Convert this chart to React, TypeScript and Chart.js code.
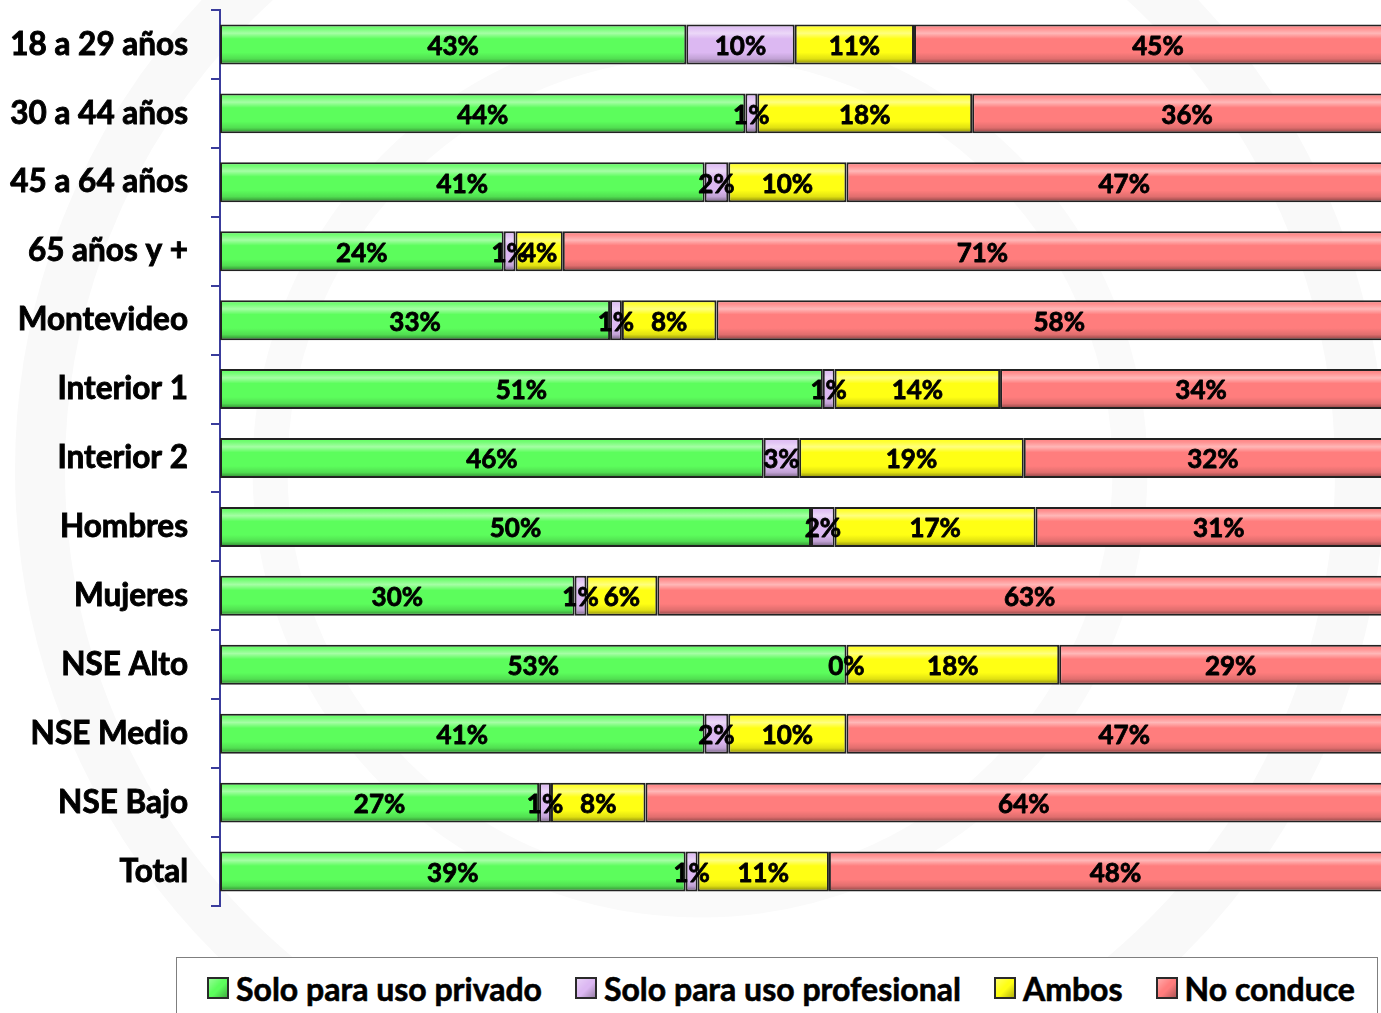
import React, { useEffect, useRef } from "react";
import { Chart, registerables } from "chart.js";

Chart.register(...registerables);

const categories = [
  "18 a 29 años",
  "30 a 44 años",
  "45 a 64 años",
  "65 años y +",
  "Montevideo",
  "Interior 1",
  "Interior 2",
  "Hombres",
  "Mujeres",
  "NSE Alto",
  "NSE Medio",
  "NSE Bajo",
  "Total",
];

const seriesNames = ["Solo para uso privado", "Solo para uso profesional", "Ambos", "No conduce"];
const privado = [43, 44, 41, 24, 33, 51, 46, 50, 30, 53, 41, 27, 39];
const profesional = [10, 1, 2, 1, 1, 1, 3, 2, 1, 0, 2, 1, 1];
const ambos = [11, 18, 10, 4, 8, 14, 19, 17, 6, 18, 10, 8, 11];
const noConduce = [45, 36, 47, 71, 58, 34, 32, 31, 63, 29, 47, 64, 48];

const seriesColors = ["#5cfd5c", "#dcb8f2", "#ffff14", "#ff7d7d"];
const FONT = "Lato, 'Open Sans', sans-serif";

const rawSeries = [privado, profesional, ambos, noConduce];
const rowTotals = categories.map((_, i) => rawSeries.reduce((s, arr) => s + arr[i], 0));
const normalized = rawSeries.map((arr) => arr.map((v, i) => (v / rowTotals[i]) * 100));

const bevelAndLabels = {
  id: "bevelAndLabels",
  afterDatasetsDraw(chart: any) {
    const ctx = chart.ctx;
    chart.data.datasets.forEach((ds: any, di: number) => {
      const meta = chart.getDatasetMeta(di);
      meta.data.forEach((el: any) => {
        const p = el.getProps(["x", "y", "base", "height"], true);
        const left = Math.min(p.x, p.base);
        const right = Math.max(p.x, p.base);
        const top = p.y - p.height / 2;
        const bottom = p.y + p.height / 2;
        const w = right - left;
        if (w <= 4) return;
        ctx.save();
        ctx.beginPath();
        ctx.rect(left + 2, top + 2, w - 4, p.height - 4);
        ctx.clip();
        const g = ctx.createLinearGradient(0, top, 0, bottom);
        g.addColorStop(0, "rgba(255,255,255,0)");
        g.addColorStop(0.1, "rgba(255,255,255,0.15)");
        g.addColorStop(0.22, "rgba(255,255,255,0.45)");
        g.addColorStop(0.36, "rgba(255,255,255,0)");
        g.addColorStop(0.7, "rgba(0,0,0,0)");
        g.addColorStop(0.86, "rgba(0,0,0,0.12)");
        g.addColorStop(1, "rgba(0,0,0,0.5)");
        ctx.fillStyle = g;
        ctx.fillRect(left, top, w, p.height);
        ctx.restore();
      });
    });
    ctx.save();
    ctx.fillStyle = "#000";
    ctx.strokeStyle = "#000";
    ctx.lineWidth = 0.8;
    ctx.lineJoin = "round";
    ctx.font = `bold 26px ${FONT}`;
    ctx.textAlign = "center";
    ctx.textBaseline = "middle";
    chart.data.datasets.forEach((ds: any, di: number) => {
      const meta = chart.getDatasetMeta(di);
      meta.data.forEach((el: any, j: number) => {
        const p = el.getProps(["x", "y", "base"], true);
        const cx = (p.x + p.base) / 2;
        const txt = rawSeries[di][j] + "%";
        ctx.fillText(txt, cx, p.y + 2);
        ctx.strokeText(txt, cx, p.y + 2);
      });
    });
    ctx.restore();
  },
};

export default function App() {
  const canvasRef = useRef<HTMLCanvasElement | null>(null);

  useEffect(() => {
    const canvas = canvasRef.current;
    if (!canvas) return;
    const chart = new Chart(canvas, {
      type: "bar",
      data: {
        labels: categories,
        datasets: seriesNames.map((name, i) => ({
          label: name,
          data: normalized[i],
          backgroundColor: seriesColors[i],
          borderColor: "#222222",
          borderWidth: 2,
          borderSkipped: false,
          barPercentage: 0.58,
          categoryPercentage: 1,
        })),
      },
      options: {
        indexAxis: "y",
        responsive: false,
        animation: false,
        maintainAspectRatio: false,
        layout: { padding: { top: 10, bottom: 107, right: 8, left: 0 } },
        plugins: {
          legend: { display: false },
          tooltip: { enabled: false },
        },
        scales: {
          x: { stacked: true, min: 0, max: 100, display: false },
          y: {
            stacked: true,
            afterFit: (scale: any) => {
              scale.width = 220;
              scale.paddingTop = 0;
              scale.paddingBottom = 0;
            },
            grid: {
              offset: true,
              drawOnChartArea: false,
              drawTicks: true,
              tickLength: 9,
              color: "#3a3c9c",
              lineWidth: 2,
            },
            border: { display: true, color: "#3a3c9c", width: 2 },
            ticks: {
              color: "#000",
              padding: 23,
              textStrokeColor: "#000",
              textStrokeWidth: 0.9,
              font: { family: FONT, size: 31.5, weight: "bold" },
            },
          },
        },
      },
      plugins: [bevelAndLabels],
    });
    return () => chart.destroy();
  }, []);

  const legendBox = (color: string): React.CSSProperties => ({
    width: 18,
    height: 18,
    border: "2px solid #2a2a2a",
    background: `linear-gradient(135deg, rgba(255,255,255,0.35), rgba(255,255,255,0) 45%, rgba(0,0,0,0) 55%, rgba(0,0,0,0.3)), ${color}`,
    marginRight: 7,
    flex: "0 0 auto",
  });

  return (
    <div
      style={{
        position: "fixed",
        left: 0,
        top: 0,
        width: 1381,
        height: 1013,
        overflow: "hidden",
        background: "#ffffff",
      }}
    >
      <svg
        width={1381}
        height={1013}
        style={{ position: "absolute", left: 0, top: 0 }}
      >
        <circle cx={700} cy={470} r={660} fill="none" stroke="#f9f9f9" strokeWidth={50} />
        <circle cx={700} cy={470} r={430} fill="none" stroke="#fafafa" strokeWidth={35} />
      </svg>
      <canvas
        ref={canvasRef}
        width={1410}
        height={1013}
        style={{ position: "absolute", left: 0, top: 0, width: 1410, height: 1013 }}
      />
      <div
        style={{
          position: "absolute",
          left: 176,
          top: 957,
          width: 1202,
          height: 62,
          border: "1px solid #7f7f7f",
          background: "#fff",
          display: "flex",
          alignItems: "center",
          paddingLeft: 30,
          boxSizing: "border-box",
          fontFamily: FONT,
          fontWeight: "bold",
          fontSize: 32,
          color: "#000",
          WebkitTextStroke: "0.6px #000",
        }}
      >
        {seriesNames.map((name, i) => (
          <div
            key={name}
            style={{ display: "flex", alignItems: "center", marginRight: i < 3 ? 33 : 0 }}
          >
            <div style={legendBox(seriesColors[i])} />
            <span style={{ whiteSpace: "nowrap" }}>{name}</span>
          </div>
        ))}
      </div>
    </div>
  );
}
